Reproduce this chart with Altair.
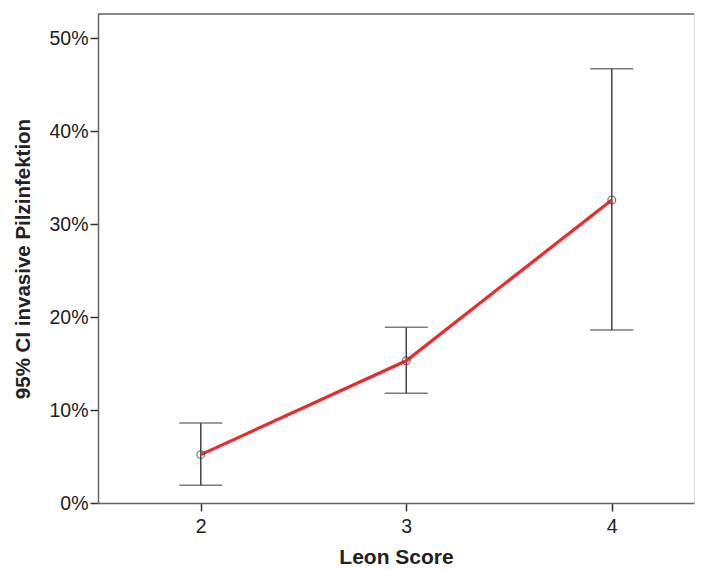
import altair as alt
import pandas as pd

scores = [2, 3, 4]
means = [0.052, 0.153, 0.326]
lower = [0.019, 0.118, 0.186]
upper = [0.086, 0.189, 0.467]
y_ticks = [0.0, 0.1, 0.2, 0.3, 0.4, 0.5]
x_domain = [1.5, 4.4]
y_domain = [0, 0.526]

df = pd.DataFrame({"score": scores, "mean": means, "lower": lower, "upper": upper})

xs = alt.Scale(domain=x_domain, nice=False, zero=False)
ys = alt.Scale(domain=y_domain, nice=False)

FONT = "Liberation Sans"
x_axis = alt.Axis(values=scores, format="d", title="Leon Score", grid=False,
                  labelFontSize=19.5, titleFontSize=21, titleFontWeight="bold",
                  tickSize=8, tickWidth=1.5, labelPadding=6, titlePadding=11,
                  domainColor="#666666", domainWidth=1.5, tickColor="#333333",
                  labelColor="#222222", titleColor="#222222",
                  labelFont=FONT, titleFont=FONT)
y_axis = alt.Axis(values=y_ticks, format=".0%", title="95% CI invasive Pilzinfektion",
                  grid=False, labelFontSize=19.5, titleFontSize=20.5, titleFontWeight="bold",
                  tickSize=8, tickWidth=1.5, labelPadding=2, titlePadding=15,
                  domainColor="#666666", domainWidth=1.5, tickColor="#333333",
                  labelColor="#222222", titleColor="#222222",
                  labelFont=FONT, titleFont=FONT)

base = alt.Chart(df)

frame_top = alt.Chart(pd.DataFrame({"a": [0]})).mark_rule(color="#666666", strokeWidth=1.5).encode(
    x=alt.datum(x_domain[0], scale=xs), x2=alt.datum(x_domain[1]),
    y=alt.datum(y_domain[1], scale=ys))

rules = base.mark_rule(color="#444444", strokeWidth=1.5).encode(
    x=alt.X("score:Q", scale=xs, axis=x_axis),
    y=alt.Y("lower:Q", scale=ys, axis=y_axis),
    y2="upper:Q",
)
caps_low = base.mark_tick(color="#444444", thickness=1.5, size=43, orient="horizontal").encode(
    x=alt.X("score:Q", scale=xs), y=alt.Y("lower:Q", scale=ys))
caps_up = base.mark_tick(color="#444444", thickness=1.5, size=43, orient="horizontal").encode(
    x=alt.X("score:Q", scale=xs), y=alt.Y("upper:Q", scale=ys))
line = base.mark_line(color="#ee2a2e", strokeWidth=3.2).encode(
    x=alt.X("score:Q", scale=xs), y=alt.Y("mean:Q", scale=ys))
pts = base.mark_point(filled=False, color="#444444", size=60, strokeWidth=1.3).encode(
    x=alt.X("score:Q", scale=xs), y=alt.Y("mean:Q", scale=ys))

chart = alt.layer(rules, frame_top, caps_low, caps_up, line, pts).properties(
    width=596, height=489, padding={"left": 5, "top": 5, "right": 0, "bottom": 5}
).configure_view(stroke=None).configure(background="white")

chart.save("out.html", embed_options={"renderer": "svg", "actions": False})
